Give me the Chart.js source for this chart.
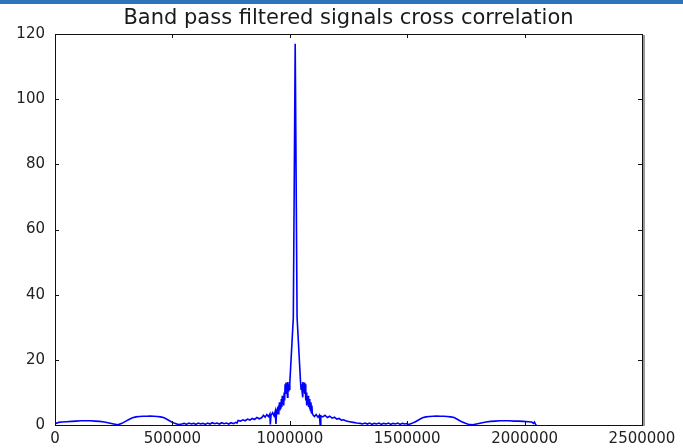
<!DOCTYPE html>
<html>
<head>
<meta charset="utf-8">
<script src="https://cdn.jsdelivr.net/npm/chart.js@4/dist/chart.umd.min.js"></script>
<style>
  html, body { margin: 0; padding: 0; background: #fff; }
  .topbar { height: 4px; background: #2b74b8; }
  #wrap { position: relative; width: 683px; height: 444px; }
</style>
</head>
<body>
<div class="topbar"></div>
<div id="wrap"><canvas id="xcorr"></canvas></div>
<script>
// lag (samples) and cross correlation value at that lag
const lagSamples = [
  0, 8000, 15000, 30000, 50000, 70000, 90000, 110000, 130000, 150000, 170000, 190000, 210000, 230000, 250000, 268000,
  285000, 300000, 315000, 330000, 345000, 360000, 375000, 390000, 405000, 420000, 435000, 450000, 465000, 480000, 495000, 510000, 525000, 540000,
  550000, 560000, 570000, 580000, 590000, 600000, 610000, 620000, 630000, 640000, 650000, 660000, 670000, 680000, 690000, 700000,
  710000, 720000, 730000, 740000, 750000, 760000, 770000, 775000,
  780000, 790000, 800000, 810000, 820000, 830000, 840000, 850000, 860000, 870000,
  880000, 888000, 895000, 902000, 909000, 915000, 917000, 920000, 927000, 933000, 938000, 941000, 944000, 947000,
  950000, 952000, 954000, 956000, 958000, 960000, 962000, 964000, 966000, 968000, 970000, 972000, 974000, 976000, 978000,
  980000, 982000, 984000, 986000, 988000, 990000, 992000, 994000, 996000, 998000, 1000000,
  1015000, 1023000, 1031000,
  1046000, 1048000, 1050000, 1052000, 1054000, 1056000, 1058000, 1060000, 1062000, 1064000, 1066000,
  1068000, 1070000, 1072000, 1074000, 1076000, 1078000, 1080000, 1082000, 1084000, 1086000, 1088000, 1090000, 1092000, 1094000, 1096000, 1100000,
  1105000, 1112000, 1120000, 1126000, 1129000, 1132000, 1140000, 1150000, 1160000, 1170000, 1180000, 1190000, 1200000, 1210000, 1220000,
  1230000, 1240000, 1255000, 1270000, 1285000, 1300000,
  1310000, 1320000, 1330000, 1340000, 1350000, 1360000, 1370000, 1380000, 1390000, 1400000, 1410000, 1420000, 1430000, 1440000,
  1450000, 1460000, 1470000, 1480000, 1490000, 1500000, 1505000,
  1520000, 1535000, 1550000, 1565000, 1580000, 1595000, 1610000, 1625000, 1640000, 1655000, 1670000, 1685000, 1700000, 1715000,
  1730000, 1745000, 1760000, 1778000,
  1795000, 1815000, 1835000, 1855000, 1875000, 1895000, 1915000, 1935000, 1955000, 1975000, 1995000, 2015000, 2030000,
  2038000, 2042000, 2046000, 2048000
];
const xcorrValues = [
  0.9, 0.5, 0.8, 0.9, 1.0, 1.1, 1.2, 1.3, 1.3, 1.3, 1.2, 1.1, 0.9, 0.6, 0.3, 0.05,
  0.5, 1.1, 1.7, 2.2, 2.5, 2.6, 2.7, 2.7, 2.75, 2.7, 2.6, 2.5, 2.2, 1.6, 1.0, 0.5, 0.15, 0.3,
  0.5, 0.2, 0.6, 0.3, 0.5, 0.2, 0.6, 0.3, 0.5, 0.2, 0.6, 0.3, 0.7, 0.4, 0.6, 0.3,
  0.7, 0.4, 0.6, 0.3, 0.7, 0.4, 0.8, 0.6,
  1.4, 1.2, 1.6, 1.3, 1.8, 1.5, 2.0, 1.7, 2.3, 1.9,
  2.2, 3.0, 2.4, 3.2, 2.6, 3.4, 0.2, 3.0, 3.8, 2.8, 4.2, 0.3, 4.5, 5.0,
  3.5, 6.0, 3.8, 7.0, 4.5, 6.5, 5.0, 8.0, 5.5, 9.0, 6.5, 8.5, 6.0, 10.0, 7.5,
  12.5, 9.5, 13.0, 10.0, 12.8, 8.5, 13.2, 10.5, 12.5, 11.0, 12.8,
  33, 117, 33,
  12.8, 11.0, 12.5, 10.5, 13.2, 8.5, 12.8, 10.0, 13.0, 9.5, 12.5,
  7.5, 10.0, 6.0, 8.5, 6.5, 9.0, 5.5, 8.0, 5.0, 6.5, 4.5, 7.0, 3.8, 6.0, 3.5, 3.0,
  2.6, 3.2, 2.4, 3.0, 0.2, 2.8, 2.5, 3.0, 2.3, 2.7, 2.1, 2.4, 1.8, 2.0, 1.5,
  1.6, 1.2, 1.0, 0.8, 0.6, 0.5,
  0.3, 0.6, 0.3, 0.6, 0.2, 0.5, 0.3, 0.6, 0.2, 0.5, 0.3, 0.6, 0.2, 0.5,
  0.3, 0.6, 0.2, 0.5, 0.3, 0.5, 0.1,
  0.5, 1.0, 1.6, 2.2, 2.5, 2.6, 2.7, 2.75, 2.7, 2.7, 2.6, 2.5, 2.3, 1.7,
  1.1, 0.6, 0.25, 0.05,
  0.3, 0.6, 0.9, 1.1, 1.2, 1.3, 1.3, 1.3, 1.2, 1.2, 1.1, 1.0, 0.9,
  0.5, 0.9, 0.3, 0
];
const xTickValues = [0, 500000, 1000000, 1500000, 2000000, 2500000];
const yTickValues = [0, 20, 40, 60, 80, 100, 120];

const points = lagSamples.map((lag, i) => ({ x: lag, y: xcorrValues[i] }));

// matplotlib style box with inward ticks on all four sides
const frameTicks = {
  id: 'frameTicks',
  afterDatasetsDraw(chart) {
    const { ctx, chartArea: a, scales } = chart;
    const len = 4;
    ctx.save();
    ctx.strokeStyle = '#111';
    ctx.lineWidth = 1;
    xTickValues.forEach(v => {
      const px = Math.round(scales.x.getPixelForValue(v)) + 0.5;
      ctx.beginPath();
      ctx.moveTo(px, a.bottom); ctx.lineTo(px, a.bottom - len);
      ctx.moveTo(px, a.top); ctx.lineTo(px, a.top + len);
      ctx.stroke();
    });
    yTickValues.forEach(v => {
      const py = Math.round(scales.y.getPixelForValue(v)) + 0.5;
      ctx.beginPath();
      ctx.moveTo(a.left, py); ctx.lineTo(a.left + len, py);
      ctx.moveTo(a.right, py); ctx.lineTo(a.right - len, py);
      ctx.stroke();
    });
    ctx.strokeRect(Math.round(a.left) + 0.5, Math.round(a.top) + 0.5,
      Math.round(a.right - a.left), Math.round(a.bottom - a.top));
    // soft shade along the right edge
    ctx.strokeStyle = '#9a9a9a';
    ctx.lineWidth = 2;
    ctx.beginPath();
    ctx.moveTo(Math.round(a.right) + 2, a.top + 1);
    ctx.lineTo(Math.round(a.right) + 2, a.bottom + 1);
    ctx.stroke();
    ctx.restore();
  }
};

const tickFont = { family: 'DejaVu Sans', size: 15 };

new Chart(document.getElementById('xcorr'), {
  type: 'line',
  data: {
    datasets: [{
      data: points,
      borderColor: '#0000ff',
      borderWidth: 1.6,
      pointRadius: 0,
      tension: 0,
      fill: false
    }]
  },
  options: {
    responsive: true,
    maintainAspectRatio: false,
    animation: false,
    layout: { padding: { left: 0, right: 41, top: 0, bottom: 0 } },
    plugins: {
      legend: { display: false },
      tooltip: { enabled: false },
      title: {
        display: true,
        fullSize: false,
        text: 'Band pass filtered signals cross correlation',
        color: '#1a1a1a',
        font: { family: 'DejaVu Sans', size: 21, weight: 'normal' },
        padding: { top: 2, bottom: 2.8 }
      }
    },
    scales: {
      x: {
        type: 'linear',
        min: 0,
        max: 2500000,
        afterBuildTicks: s => { s.ticks = xTickValues.map(v => ({ value: v })); },
        afterFit: s => { s.height = 23; },
        grid: { display: false, drawTicks: false },
        border: { display: false },
        ticks: {
          color: '#222',
          font: tickFont,
          padding: 5,
          maxRotation: 0,
          autoSkip: false,
          callback: v => String(v)
        }
      },
      y: {
        min: 0,
        max: 120,
        afterBuildTicks: s => { s.ticks = yTickValues.map(v => ({ value: v })); },
        afterFit: s => { s.width = 55; },
        grid: { display: false, drawTicks: false },
        border: { display: false },
        ticks: {
          color: '#222',
          font: tickFont,
          padding: 10,
          callback: v => String(v)
        }
      }
    }
  },
  plugins: [frameTicks]
});
</script>
</body>
</html>
